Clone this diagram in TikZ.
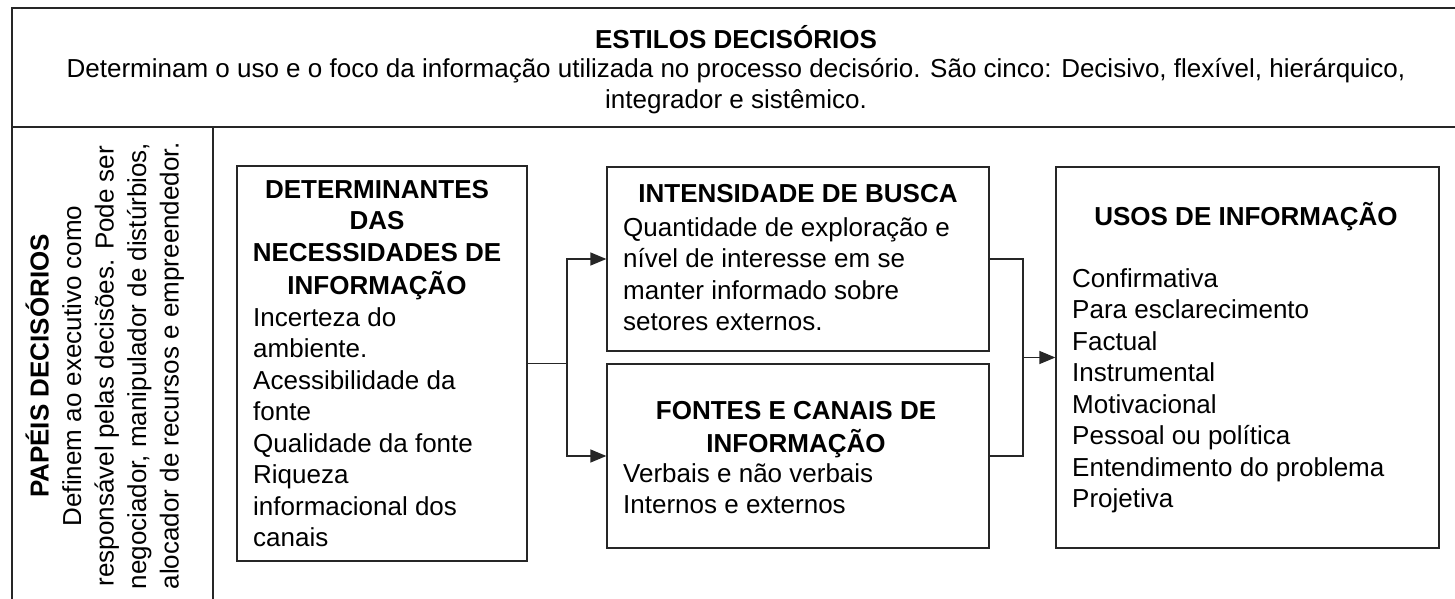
\documentclass[tikz,border=0pt]{standalone}
\usepackage{fontspec}
\setmainfont{Liberation Sans}
\usetikzlibrary{arrows.meta}
\begin{document}
\begin{tikzpicture}[x=1pt,y=-1pt,
  frame/.style={draw=black!85, line width=1.3pt},
  box/.style={draw=black!85, line width=1.3pt, rectangle, inner sep=0pt},
  txt/.style={inner sep=0pt, align=left, font=\fontsize{26}{31.5}\selectfont},
  ttl/.style={inner sep=0pt, align=center, font=\fontsize{26}{31.5}\selectfont\bfseries},
  arr/.style={-{Triangle[length=16pt,width=13pt]}, line width=1.3pt, draw=black!85},
  con/.style={line width=1.3pt, draw=black!85}]
\useasboundingbox (0,0) rectangle (1455,599);
\fill[white] (0,0) rectangle (1455,599);
% outer frame
\draw[frame] (1470,8) -- (12,8) -- (12,127);
\draw[frame] (12,127) -- (1470,127);
\draw[frame, line width=2.6pt] (12,126) -- (12,610);
\draw[frame] (213,127) -- (213,610);
% top text
\node[ttl, anchor=north] (toptitle) at (736,25) {\strut ESTILOS DECISÓRIOS};
\node[inner sep=0pt, align=center, font=\fontsize{26}{31}\selectfont, anchor=north] (toptext) at (736,56)
  {\strut Determinam o uso e o foco da informação utilizada no processo decisório. São cinco: Decisivo, flexível, hierárquico,\\
   \strut integrador e sistêmico.};
% left rotated text
\node[inner sep=0pt, align=center, rotate=90, font=\fontsize{26}{32.5}\selectfont] (papeis) at (107,366)
  {\strut\textbf{PAPÉIS DECISÓRIOS}\\
   \strut Definem ao executivo como\\
   \strut responsável pelas decisões. Pode ser\\
   \strut negociador, manipulador de distúrbios,\\
   \strut alocador de recursos e empreendedor.};
% boxes
\node[box, minimum width=290pt, minimum height=395pt] (b1) at (382,363.5) {};
\node[box, minimum width=382pt, minimum height=184pt] (b2) at (798,259) {};
\node[box, minimum width=382pt, minimum height=184pt] (b3) at (798,456) {};
\node[box, minimum width=383pt, minimum height=381pt] (b4) at (1247.5,357.5) {};
% box 1 text
\node[ttl, anchor=north] (t1) at (377,176)
  {\strut DETERMINANTES\\\strut DAS\\\strut NECESSIDADES DE\\\strut INFORMAÇÃO};
\node[txt, anchor=north west] (x1) at (253,304)
  {\strut Incerteza do\\\strut ambiente.\\\strut Acessibilidade da\\\strut fonte\\\strut Qualidade da fonte\\\strut Riqueza\\\strut informacional dos\\\strut canais};
% box 2 text
\node[ttl, anchor=north] (t2) at (798,180) {\strut INTENSIDADE DE BUSCA};
\node[txt, anchor=north west] (x2) at (623,214)
  {\strut Quantidade de exploração e\\\strut nível de interesse em se\\\strut manter informado sobre\\\strut setores externos.};
% box 3 text
\node[ttl, anchor=north] (t3) at (796,397) {\strut FONTES E CANAIS DE\\\strut INFORMAÇÃO};
\node[txt, anchor=north west] (x3) at (623,460)
  {\strut Verbais e não verbais\\\strut Internos e externos};
% box 4 text
\node[ttl, anchor=north] (t4) at (1246,202) {\strut USOS DE INFORMAÇÃO};
\node[txt, anchor=north west] (x4) at (1072,265)
  {\strut Confirmativa\\\strut Para esclarecimento\\\strut Factual\\\strut Instrumental\\\strut Motivacional\\\strut Pessoal ou política\\\strut Entendimento do problema\\\strut Projetiva};
% connectors
\coordinate (j1) at (567,363.5);
\coordinate (j2) at (1023,357.5);
\draw[con] (b1.east) -- (j1);
\draw[arr] (j1) |- (b2.west);
\draw[arr] (j1) |- (b3.west);
\draw[con] (b2.east) -| (j2) |- (b3.east);
\draw[arr] (j2) -- (b4.west);
\end{tikzpicture}
\end{document}
